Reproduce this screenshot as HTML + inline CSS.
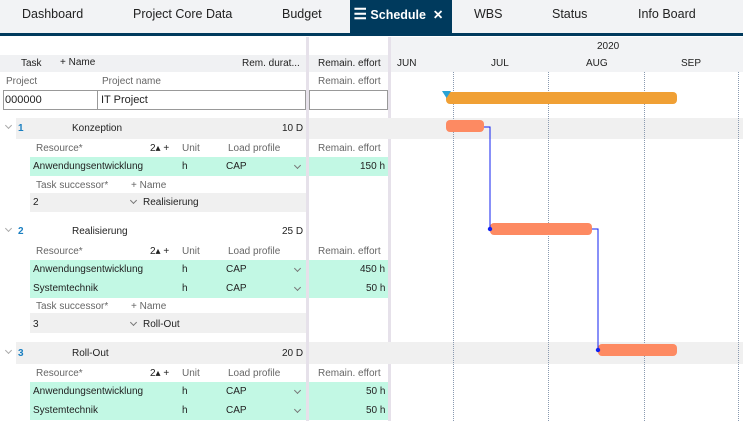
<!DOCTYPE html>
<html><head><style>
*{margin:0;padding:0;box-sizing:border-box}
body{width:743px;height:421px;overflow:hidden;background:#fff;font-family:"Liberation Sans",Arial,sans-serif;font-size:10px;color:#222;position:relative}
.a{position:absolute;white-space:nowrap}
.tab{position:absolute;top:0;height:33px;line-height:29px;font-size:12.5px;color:#222}
.g{color:#666}
.green{background:#c2f8e4}
.gray{background:#f0f0f0}
.vl{position:absolute;top:72px;bottom:0;border-left:1px dotted #8a9ab0}
.bar{position:absolute;border-radius:4px}
.cv{position:absolute;width:5px;height:5px;border-right:1.2px solid #777;border-bottom:1.2px solid #777;transform:rotate(45deg)}
</style></head><body>
<div class="a" style="left:0;top:0;width:743px;height:33px;background:#f2f3f5"></div>
<div class="a" style="left:0;top:33px;width:743px;height:3px;background:#003a5d"></div>
<div class="tab" style="left:22px">Dashboard</div>
<div class="tab" style="left:133px">Project Core Data</div>
<div class="tab" style="left:282px">Budget</div>
<div class="a" style="left:350px;top:0;width:102px;height:34px;background:#003a5d"></div>
<div class="tab" style="left:350px;color:#fff;font-weight:bold;font-size:12.5px">&nbsp;<span style="font-size:15px">☰</span> Schedule&nbsp; ✕</div>
<div class="tab" style="left:474px">WBS</div>
<div class="tab" style="left:552px">Status</div>
<div class="tab" style="left:638px">Info Board</div>

<div class="a" style="left:306px;top:37px;width:3px;height:384px;background:#e6e1ea"></div>
<div class="a" style="left:388px;top:37px;width:3px;height:384px;background:#e6e1ea"></div>

<div class="a" style="left:0;top:55px;width:306px;height:17px;background:#f0f1f3"></div>
<div class="a" style="left:309px;top:55px;width:79px;height:17px;background:#f0f1f3"></div>
<div class="a" style="left:391px;top:37px;width:352px;height:35px;background:#f2f3f5"></div>
<div class="a" style="left:21px;top:58px">Task</div>
<div class="a" style="left:60px;top:57px">+ Name</div>
<div class="a" style="left:242px;top:58px">Rem. durat...</div>
<div class="a" style="left:318px;top:58px">Remain. effort</div>
<div class="a" style="left:597px;top:41px">2020</div>
<div class="a" style="left:397px;top:58px">JUN</div>
<div class="a" style="left:491px;top:58px">JUL</div>
<div class="a" style="left:586px;top:58px">AUG</div>
<div class="a" style="left:681px;top:58px">SEP</div>

<div class="a g" style="left:6px;top:76px">Project</div>
<div class="a g" style="left:102px;top:76px">Project name</div>
<div class="a g" style="left:318px;top:76px">Remain. effort</div>
<div class="a" style="left:3px;top:90px;width:303px;height:20px;border:1px solid #999"></div>
<div class="a" style="left:97px;top:90px;width:1px;height:20px;background:#999"></div>
<div class="a" style="left:309px;top:90px;width:79px;height:20px;border:1px solid #999"></div>
<div class="a" style="left:5px;top:94px;font-size:11px">000000</div>
<div class="a" style="left:101px;top:94px;font-size:11px">IT Project</div>

<div class="a gray" style="left:16px;top:118px;width:290px;height:21px"></div>
<div class="a gray" style="left:309px;top:118px;width:434px;height:21px"></div>
<div class="a gray" style="left:30px;top:193px;width:276px;height:19px"></div>
<div class="a gray" style="left:30px;top:313px;width:276px;height:20px"></div>
<div class="a gray" style="left:16px;top:342px;width:290px;height:22px"></div>
<div class="a gray" style="left:309px;top:342px;width:434px;height:22px"></div>
<div class="a green" style="left:30px;top:157px;width:276px;height:19px"></div>
<div class="a green" style="left:309px;top:157px;width:79px;height:19px"></div>
<div class="a green" style="left:30px;top:260px;width:276px;height:38px"></div>
<div class="a green" style="left:309px;top:260px;width:79px;height:38px"></div>
<div class="a green" style="left:30px;top:382px;width:276px;height:38px"></div>
<div class="a green" style="left:309px;top:382px;width:79px;height:38px"></div>

<!-- task 1 -->
<div class="cv" style="left:6px;top:123px;border-color:#aaa"></div>
<div class="a" style="left:18px;top:123px;color:#1a7fc1;font-weight:bold">1</div>
<div class="a" style="left:72px;top:123px">Konzeption</div>
<div class="a" style="left:282px;top:123px">10 D</div>
<div class="a g" style="left:36px;top:143px">Resource*</div>
<div class="a" style="left:150px;top:143px">2▴ +</div>
<div class="a g" style="left:182px;top:143px">Unit</div>
<div class="a g" style="left:228px;top:143px">Load profile</div>
<div class="a g" style="left:318px;top:143px">Remain. effort</div>
<div class="a" style="left:33px;top:161px">Anwendungsentwicklung</div>
<div class="a" style="left:182px;top:161px">h</div>
<div class="a" style="left:226px;top:161px">CAP</div>
<div class="cv" style="left:295px;top:163px"></div>
<div class="a" style="left:360px;top:161px">150 h</div>
<div class="a g" style="left:36px;top:180px">Task successor*</div>
<div class="a g" style="left:131px;top:180px">+ Name</div>
<div class="a" style="left:33px;top:197px">2</div>
<div class="cv" style="left:131px;top:198px"></div>
<div class="a" style="left:143px;top:197px">Realisierung</div>

<!-- task 2 -->
<div class="cv" style="left:6px;top:226px;border-color:#aaa"></div>
<div class="a" style="left:18px;top:226px;color:#1a7fc1;font-weight:bold">2</div>
<div class="a" style="left:72px;top:226px">Realisierung</div>
<div class="a" style="left:282px;top:226px">25 D</div>
<div class="a g" style="left:36px;top:246px">Resource*</div>
<div class="a" style="left:150px;top:246px">2▴ +</div>
<div class="a g" style="left:182px;top:246px">Unit</div>
<div class="a g" style="left:228px;top:246px">Load profile</div>
<div class="a g" style="left:318px;top:246px">Remain. effort</div>
<div class="a" style="left:33px;top:264px">Anwendungsentwicklung</div>
<div class="a" style="left:182px;top:264px">h</div>
<div class="a" style="left:226px;top:264px">CAP</div>
<div class="cv" style="left:295px;top:266px"></div>
<div class="a" style="left:360px;top:264px">450 h</div>
<div class="a" style="left:33px;top:283px">Systemtechnik</div>
<div class="a" style="left:182px;top:283px">h</div>
<div class="a" style="left:226px;top:283px">CAP</div>
<div class="cv" style="left:295px;top:285px"></div>
<div class="a" style="left:366px;top:283px">50 h</div>
<div class="a g" style="left:36px;top:301px">Task successor*</div>
<div class="a g" style="left:131px;top:301px">+ Name</div>
<div class="a" style="left:33px;top:319px">3</div>
<div class="cv" style="left:131px;top:320px"></div>
<div class="a" style="left:143px;top:319px">Roll-Out</div>

<!-- task 3 -->
<div class="cv" style="left:6px;top:348px;border-color:#aaa"></div>
<div class="a" style="left:18px;top:348px;color:#1a7fc1;font-weight:bold">3</div>
<div class="a" style="left:72px;top:348px">Roll-Out</div>
<div class="a" style="left:282px;top:348px">20 D</div>
<div class="a g" style="left:36px;top:368px">Resource*</div>
<div class="a" style="left:150px;top:368px">2▴ +</div>
<div class="a g" style="left:182px;top:368px">Unit</div>
<div class="a g" style="left:228px;top:368px">Load profile</div>
<div class="a g" style="left:318px;top:368px">Remain. effort</div>
<div class="a" style="left:33px;top:386px">Anwendungsentwicklung</div>
<div class="a" style="left:182px;top:386px">h</div>
<div class="a" style="left:226px;top:386px">CAP</div>
<div class="cv" style="left:295px;top:388px"></div>
<div class="a" style="left:366px;top:386px">50 h</div>
<div class="a" style="left:33px;top:405px">Systemtechnik</div>
<div class="a" style="left:182px;top:405px">h</div>
<div class="a" style="left:226px;top:405px">CAP</div>
<div class="cv" style="left:295px;top:407px"></div>
<div class="a" style="left:366px;top:405px">50 h</div>

<div class="vl" style="left:453px"></div>
<div class="vl" style="left:548px"></div>
<div class="vl" style="left:644px"></div>
<div class="vl" style="left:738px"></div>
<div class="bar" style="left:446px;top:92px;width:231px;height:12px;background:#f0a035"></div>
<svg class="a" style="left:442px;top:91px" width="10" height="8"><polygon points="0,0 9,0 4.5,7" fill="#29a3d6"/></svg>
<div class="bar" style="left:446px;top:120px;width:38px;height:12px;background:#fd8a62"></div>
<div class="bar" style="left:490px;top:223px;width:102px;height:12px;background:#fd8a62"></div>
<div class="bar" style="left:598px;top:344px;width:79px;height:12px;background:#fd8a62"></div>
<svg class="a" style="left:0;top:0" width="743" height="421">
<polyline points="484,127 490,127 490,229" fill="none" stroke="#1020f0" stroke-width="1"/>
<polyline points="592,229 598,229 598,350" fill="none" stroke="#1020f0" stroke-width="1"/>
<circle cx="490" cy="229" r="2.2" fill="#1020f0"/>
<circle cx="598" cy="350" r="2.2" fill="#1020f0"/>
</svg>
</body></html>
